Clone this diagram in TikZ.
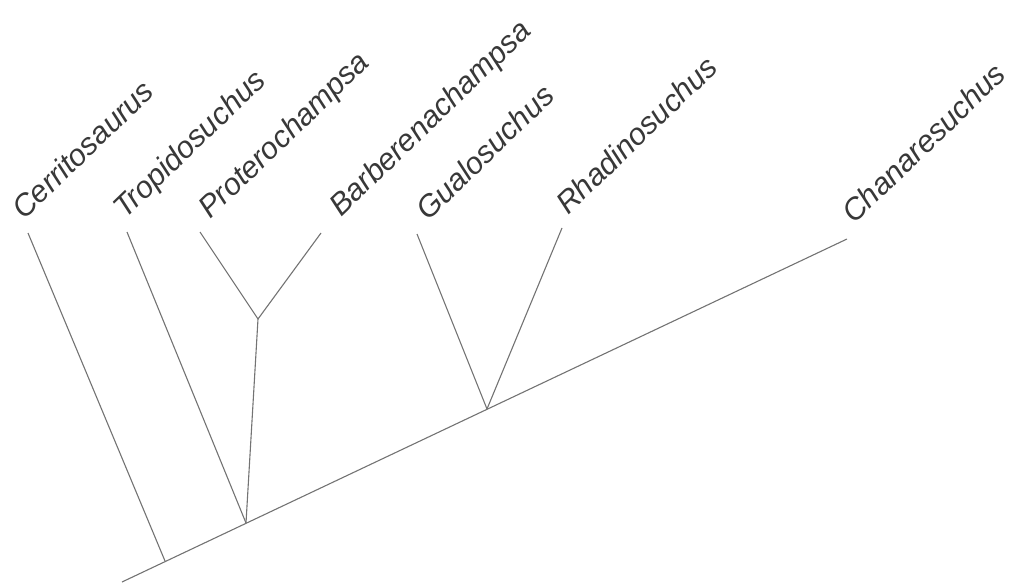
\documentclass[tikz,border=0pt]{standalone}
\usepackage{fontspec}
\setmainfont{Liberation Sans}
\begin{document}
\begin{tikzpicture}[x=1pt,y=1pt,
  branch/.style={draw=black!55, line width=1.1pt},
  taxon/.style={anchor=base west, rotate=44, inner sep=0pt, text=black!78,
    font=\fontsize{30.5}{32}\selectfont\itshape}]
\useasboundingbox (0,0) rectangle (1017,582);
% main coordinates
\coordinate (root) at (122,0);
\coordinate (nC) at (165,21);
\coordinate (nT) at (246,59);
\coordinate (nGR) at (487,173);
\coordinate (tChan) at (847,343);
\coordinate (nPB) at (258,263);
\coordinate (tCerr) at (28,349);
\coordinate (tTrop) at (127,350);
\coordinate (tProt) at (200,350);
\coordinate (tBarb) at (321,349);
\coordinate (tGual) at (417,348);
\coordinate (tRhad) at (562,354);
% branches
\draw[branch] (root) -- (tChan);
\draw[branch] (nC) -- (tCerr);
\draw[branch] (nT) -- (tTrop);
\draw[branch] (nT) -- (nPB);
\draw[branch] (nPB) -- (tProt);
\draw[branch] (nPB) -- (tBarb);
\draw[branch] (nGR) -- (tGual);
\draw[branch] (nGR) -- (tRhad);
% labels
\node[taxon] (lCerr) at ([shift={(-4,12)}]tCerr) {Cerritosaurus};
\node[taxon] (lTrop) at ([shift={(-2,12)}]tTrop) {Tropidosuchus};
\node[taxon] (lProt) at ([shift={(10,12)}]tProt) {Proterochampsa};
\node[taxon] (lBarb) at ([shift={(20,15)}]tBarb) {Barberenachampsa};
\node[taxon] (lGual) at ([shift={(11,12)}]tGual) {Gualosuchus};
\node[taxon] (lRhad) at ([shift={(6,12)}]tRhad) {Rhadinosuchus};
\node[taxon] (lChan) at ([shift={(7,14)}]tChan) {Chanaresuchus};
\end{tikzpicture}
\end{document}
